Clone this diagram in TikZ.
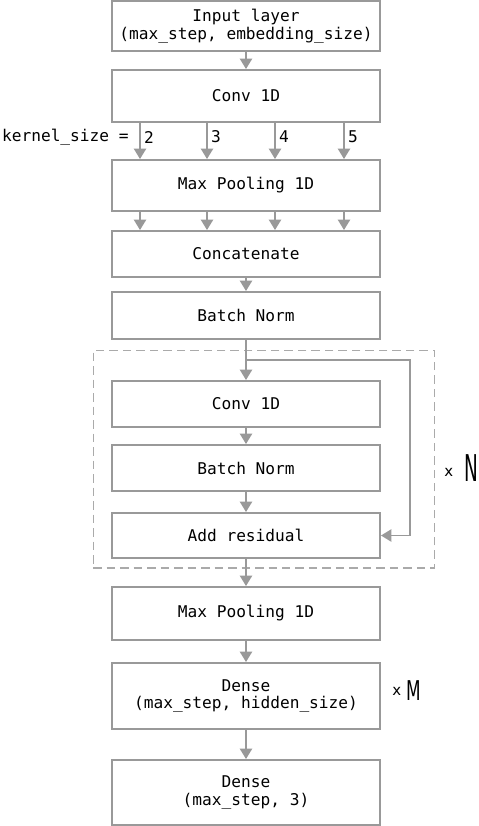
\documentclass[tikz,border=0pt]{standalone}
\usepackage{fontspec}
\setmonofont{DejaVu Sans Mono}
\setsansfont{DejaVu Sans}
\usetikzlibrary{arrows.meta, positioning}
\definecolor{linegray}{HTML}{999999}
\definecolor{dashgray}{HTML}{AAAAAA}

\begin{document}
\begin{tikzpicture}[x=0.02cm, y=-0.02cm, >={Triangle[width=7pt,length=6pt]},
          layer/.style={draw=linegray, line width=1.1pt, minimum width=5.36cm, inner sep=0pt,
                        align=center, font=\ttfamily\fontsize{9.2}{10.2}\selectfont},
          flow/.style={->, draw=linegray, line width=1.1pt},
          kernlbl/.style={anchor=west, inner sep=1pt, font=\ttfamily\fontsize{9.2}{10.2}\selectfont},
          repeatbox/.style={draw=dashgray, line width=0.6pt, dash pattern=on 0.17cm off 0.1cm,
                            minimum width=6.84cm, minimum height=4.36cm, inner sep=0pt}
        ]
        \useasboundingbox (0,0) rectangle (478,826);

        \node[layer, minimum height=1.0cm]  (inp)    at (246,26)    {Input layer\\(max\_step, embedding\_size)};
        \node[layer, minimum height=1.04cm] (conv)   at (246,96)    {Conv 1D};
        \node[layer, minimum height=1.02cm] (pool)   at (246,185.5) {Max Pooling 1D};
        \node[layer, minimum height=0.92cm] (concat) at (246,254)   {Concatenate};
        \node[layer, minimum height=0.94cm] (bn)     at (246,315.5) {Batch Norm};

        % residual block
        \node[repeatbox] (block) at (264,459) {};
        \node[layer, minimum height=0.92cm] (conv2) at (246,404)   {Conv 1D};
        \node[layer, minimum height=0.92cm] (bn2)   at (246,468)   {Batch Norm};
        \node[layer, minimum height=0.90cm] (add)   at (246,535.5) {Add residual};

        \node[layer, minimum height=1.06cm] (pool2) at (246,613.5) {Max Pooling 1D};
        \node[layer, minimum height=1.32cm] (dense) at (246,696)   {Dense\\(max\_step, hidden\_size)};
        \node[layer, minimum height=1.30cm] (out)   at (246,792.5) {Dense\\(max\_step, 3)};

        \node[kernlbl] (kern) at (0,137) {kernel\_size =};
        \node[anchor=west, inner sep=0pt, font=\sffamily] (timesN) at (444,468)
          {\fontsize{8.5}{9}\selectfont\raisebox{0.1cm}{x}\hspace{0.22cm}\scalebox{0.5}[1]{\fontsize{21}{21}\selectfont N}};
        \node[anchor=west, inner sep=0pt, font=\sffamily] (timesM) at (392,691)
          {\fontsize{8.5}{9}\selectfont\raisebox{0.1cm}{x}\hspace{0.1cm}\scalebox{0.62}[1]{\fontsize{15.5}{16}\selectfont M}};

        \coordinate (split) at (246,360);
        \coordinate (skip)  at (410,360);

        % main path
        \draw[flow] (inp) -- (conv);
        \foreach \xx/\k in {140/2, 207/3, 275/4, 344/5} {
          \draw[flow] (\xx,0 |- conv.south) -- (\xx,0 |- pool.north);
          \node[kernlbl] (k\k) at (\xx+2,137) {\k};
          \draw[flow] (\xx,0 |- pool.south) -- (\xx,0 |- concat.north);
        }
        \draw[flow] (concat) -- (bn);
        \draw[flow] (bn) -- (conv2);
        \draw[flow] (conv2) -- (bn2);
        \draw[flow] (bn2) -- (add);
        \draw[flow] (split) -- (skip) |- (add.east);
        \draw[flow] (add) -- (pool2);
        \draw[flow] (pool2) -- (dense);
        \draw[flow] (dense) -- (out);
      \end{tikzpicture}
\end{document}
